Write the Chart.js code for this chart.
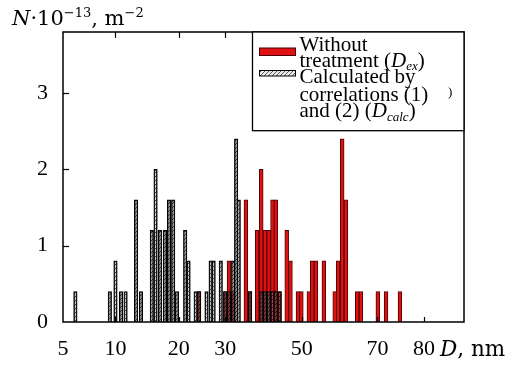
<!DOCTYPE html>
<html><head><meta charset="utf-8">
<script src="https://cdn.jsdelivr.net/npm/chart.js@4.4.1/dist/chart.umd.min.js"></script>
<style>html,body{margin:0;padding:0;background:#fff}#wrap{width:516px;height:365px}</style>
</head><body><div id="wrap"><canvas id="c" width="516" height="365"></canvas></div>
<script>
// x axis is in bin-position units along the D axis; tick labels in nm
const xTickPos = [0, 14.0, 30.9, 43.3, 63.7, 83.9, 96.3];
const xTickLabels = ['5', '10', '20', '30', '50', '70', '80'];
const yTickValues = [0, 1, 2, 3];

// Calculated by correlations (1) and (2) (D_calc) - hatched bars
const calcX = [3.3, 12.5, 14.0, 15.5, 16.7, 19.5, 20.8, 23.7, 24.7, 25.9, 27.2, 28.3, 29.4, 30.4,
               32.6, 33.5, 35.4, 36.3, 38.3, 39.4, 40.2, 42.1, 43.3, 44.3, 45.4, 46.2, 46.9,
               49.9, 52.9, 53.9, 54.9, 55.9, 56.8, 57.8];
const calcY = [0.4, 0.4, 0.8, 0.4, 0.4, 1.6, 0.4, 1.2, 2.0, 1.2, 1.2, 1.6, 1.6, 0.4,
               1.2, 0.8, 0.4, 0.4, 0.4, 0.8, 0.8, 0.8, 0.4, 0.4, 0.8, 2.4, 1.6,
               0.4, 0.4, 0.4, 0.4, 0.4, 0.4, 0.4];

// Without treatment (D_ex) - red bars
const exX = [36.3, 43.3, 44.3, 45.4, 48.8, 49.9, 51.8, 52.9, 53.9, 54.9, 55.9, 56.8, 57.8,
             59.7, 60.7, 62.7, 63.6, 65.6, 66.5, 67.5, 69.6, 72.5, 73.4, 74.5, 75.5,
             78.5, 79.5, 84.0, 86.2, 89.9];
const exY = [0.4, 0.4, 0.8, 0.4, 1.6, 0.4, 1.2, 2.0, 1.2, 1.2, 1.6, 1.6, 0.4,
             1.2, 0.8, 0.4, 0.4, 0.4, 0.8, 0.8, 0.8, 0.4, 0.8, 2.4, 1.6,
             0.4, 0.4, 0.4, 0.4, 0.4];

const legendEx = [
  [{t: 'Without'}],
  [{t: 'treatment ('}, {t: 'D', i: 1}, {t: 'ex', i: 1, sub: 1}, {t: ')'}]
];
const legendCalc = [
  [{t: 'Calculated by'}],
  [{t: 'correlations (1)'}],
  [{t: 'and (2) ('}, {t: 'D', i: 1}, {t: 'calc', i: 1, sub: 1}, {t: ')'}]
];
const yTitle = [{t: 'N', i: 1}, {t: '·10'}, {t: '−13', sup: 1}, {t: ', m'}, {t: '−2', sup: 1}];
const xTitle = [{t: 'D', i: 1}, {t: ', nm'}];

const RED = '#de1212';
const RED_BORDER = '#500000';
const canvas = document.getElementById('c');
const mctx = canvas.getContext('2d');

function makeHatch() {
  const t = document.createElement('canvas');
  t.width = 4; t.height = 4;
  const g = t.getContext('2d');
  g.fillStyle = 'rgba(180,180,180,0.25)';
  g.fillRect(0, 0, 4, 4);
  g.strokeStyle = 'rgba(0,0,0,0.7)';
  g.lineWidth = 0.9;
  g.beginPath();
  g.moveTo(0, 4); g.lineTo(4, 0);
  g.moveTo(-1, 1); g.lineTo(1, -1);
  g.moveTo(3, 5); g.lineTo(5, 3);
  g.stroke();
  return mctx.createPattern(t, 'repeat');
}
const hatch = makeHatch();

function rich(ctx, x, y, segs, size, family) {
  segs.forEach(s => {
    const fs = (s.sup || s.sub) ? size * 0.62 : size;
    ctx.font = (s.i ? 'italic ' : '') + fs + 'px ' + family;
    const dy = s.sup ? -size * 0.4 : (s.sub ? size * 0.18 : 0);
    ctx.fillText(s.t, x, y + dy);
    x += ctx.measureText(s.t).width;
  });
}

const decor = {
  id: 'decor',
  afterDraw(chart) {
    const {ctx, chartArea: a, scales: {x, y}} = chart;
    ctx.save();
    ctx.strokeStyle = '#000';
    ctx.lineWidth = 1.5;
    ctx.strokeRect(a.left, a.top, a.right - a.left, a.bottom - a.top);
    ctx.lineWidth = 1.2;
    const line = (x1, y1, x2, y2) => { ctx.beginPath(); ctx.moveTo(x1, y1); ctx.lineTo(x2, y2); ctx.stroke(); };
    xTickPos.forEach((v, i) => {
      if (i === 0) return;
      const px = Math.round(x.getPixelForValue(v)) + 0.5;
      line(px, a.top, px, a.top + 6);
      line(px, a.bottom, px, a.bottom - 5);
    });
    yTickValues.forEach(v => {
      if (v === 0) return;
      const py = Math.round(y.getPixelForValue(v)) + 0.5;
      line(a.left, py, a.left + 6, py);
    });
    // legend box
    const bx = a.right - 211.5, by = a.top, bw = 211.5, bh = 98.7;
    ctx.fillStyle = '#fff';
    ctx.fillRect(bx, by, bw, bh);
    ctx.lineWidth = 1.3;
    ctx.strokeStyle = '#000';
    ctx.strokeRect(bx, by, bw, bh);
    // swatches
    ctx.fillStyle = RED;
    ctx.fillRect(bx + 7, by + 16, 36, 7.5);
    ctx.strokeStyle = RED_BORDER; ctx.lineWidth = 1;
    ctx.strokeRect(bx + 7, by + 16, 36, 7.5);
    ctx.fillStyle = '#fff';
    ctx.fillRect(bx + 7, by + 38.5, 36, 5.5);
    ctx.fillStyle = hatch;
    ctx.fillRect(bx + 7, by + 38.5, 36, 5.5);
    ctx.strokeStyle = '#000';
    ctx.strokeRect(bx + 7, by + 38.5, 36, 5.5);
    ctx.fillStyle = '#000';
    ctx.textAlign = 'left';
    ctx.textBaseline = 'alphabetic';
    const lines = legendEx.concat(legendCalc);
    const bases = [18.7, 34.5, 51.3, 68.5, 85.3];
    lines.forEach((ln, i) => rich(ctx, bx + 47, by + bases[i], ln, 21, '"Liberation Serif"'));
    ctx.font = '13px "Liberation Serif"';
    ctx.fillText(')', a.right - 16, by + 64);
    // axis titles
    rich(ctx, 12, 25, yTitle, 21, '"DejaVu Serif"');
    rich(ctx, 440, 356, xTitle, 21.5, '"DejaVu Serif"');
    ctx.restore();
  }
};

new Chart(canvas, {
  type: 'bar',
  data: {
    datasets: [
      {
        label: 'Calculated by correlations (1) and (2) (Dcalc)',
        data: calcX.map((v, i) => ({x: v, y: calcY[i]})),
        backgroundColor: hatch,
        borderColor: '#000',
        borderWidth: 1,
        barThickness: 3.5,
        grouped: false,
        order: 0
      },
      {
        label: 'Without treatment (Dex)',
        data: exX.map((v, i) => ({x: v, y: exY[i]})),
        backgroundColor: RED,
        borderColor: RED_BORDER,
        borderWidth: 1,
        barThickness: 3.8,
        grouped: false,
        order: 1
      }
    ]
  },
  options: {
    responsive: false,
    animation: false,
    devicePixelRatio: 1,
    layout: {padding: {left: 0, right: 52, top: 32, bottom: 0}},
    plugins: {legend: {display: false}, tooltip: {enabled: false}},
    scales: {
      x: {
        type: 'linear',
        min: 0,
        max: 107,
        offset: false,
        grid: {display: false, drawTicks: false, offset: false},
        border: {display: false},
        afterBuildTicks: s => { s.ticks = xTickPos.map(v => ({value: v})); },
        afterFit: s => { s.height = 43; },
        ticks: {
          autoSkip: false,
          maxRotation: 0,
          padding: 14,
          color: '#000',
          font: {family: '"Liberation Serif"', size: 22},
          callback: (v, i) => xTickLabels[i]
        }
      },
      y: {
        min: 0,
        max: 3.8,
        grid: {display: false, drawTicks: false},
        border: {display: false},
        afterBuildTicks: s => { s.ticks = yTickValues.map(v => ({value: v})); },
        afterFit: s => { s.width = 63; },
        ticks: {
          padding: 15,
          color: '#000',
          font: {family: '"Liberation Serif"', size: 22},
          callback: v => String(v)
        }
      }
    }
  },
  plugins: [decor]
});
</script>
</body></html>
